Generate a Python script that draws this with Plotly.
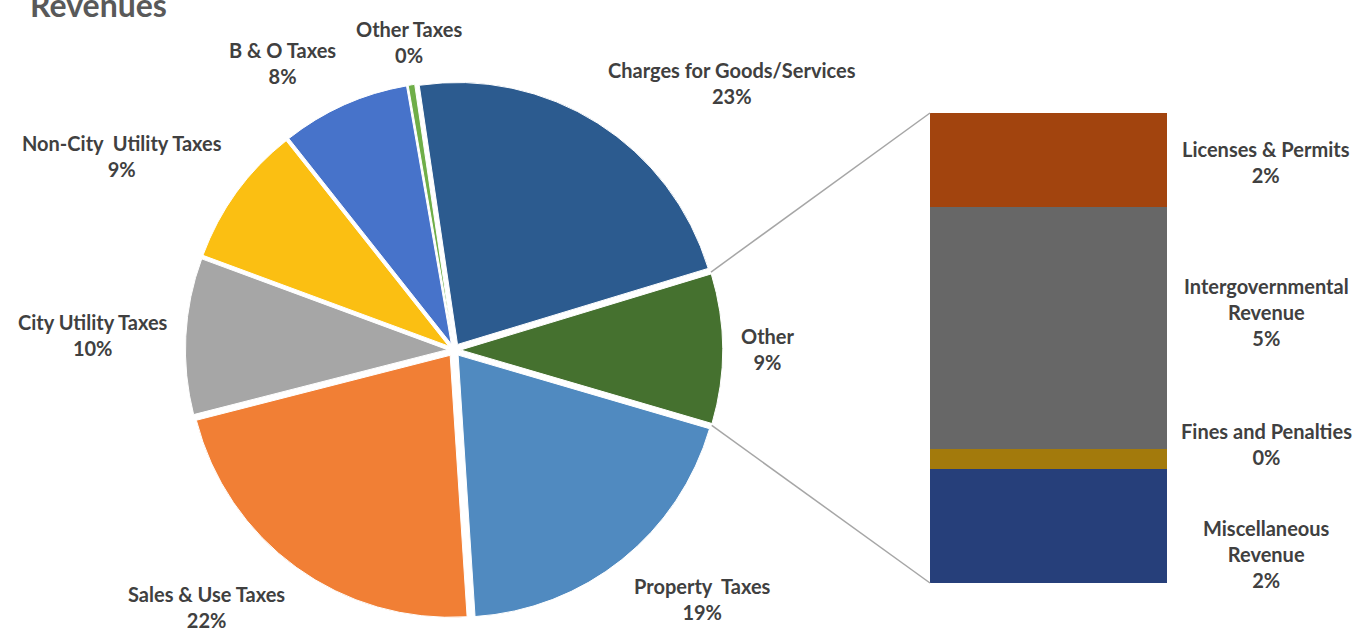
import math
import plotly.graph_objects as go

# ---- data ----
pie_labels = ["Charges for Goods/Services", "Other", "Property  Taxes", "Sales & Use Taxes",
              "City Utility Taxes", "Non-City  Utility Taxes", "B & O Taxes", "Other Taxes"]
pie_values = [22.6, 9.2, 19.4, 22.0, 9.6, 8.7, 7.9, 0.4]
pie_colors = ["#2C5B8F", "#45712F", "#508AC0", "#F17F35", "#A6A6A6", "#FBBF12", "#4773CA", "#6FAE48"]

bar_labels = ["Miscellaneous<br>Revenue", "Fines and Penalties", "Intergovernmental<br>Revenue", "Licenses & Permits"]
bar_values = [2.23, 0.39, 4.74, 1.84]
bar_colors = ["#263F7A", "#A37A0C", "#676767", "#A2440E"]
bar_label_shift = [-28, 15, 16, -2]   # px offsets of the data labels

W, H = 1372, 632
total = sum(pie_values)
rotation = -8.4
pull = 0.025
FONT = "Lato"
TXT = "#404040"
FS = 20

# pie geometry (pixels)
cx_px, cy_px, r_px = 454, 350, 262
half = r_px * (1 + pull)
pie_dom_x = [(cx_px - half) / W, (cx_px + half) / W]
pie_dom_y = [1 - (cy_px + half) / H, 1 - (cy_px - half) / H]

fig = go.Figure()
fig.add_trace(go.Pie(
    labels=pie_labels, values=pie_values, sort=False, direction="clockwise",
    rotation=rotation, pull=[pull] * len(pie_values),
    marker=dict(colors=pie_colors, line=dict(color="white", width=1)),
    textinfo="none", domain=dict(x=pie_dom_x, y=pie_dom_y), showlegend=False,
    hoverinfo="label+percent",
))

annotations = []
# pie data labels placed just outside each slice, along its bisector
gap = 16
cum = 0
for lab, val in zip(pie_labels, pie_values):
    mid = math.radians(rotation + 360 * (cum + val / 2) / total)
    cum += val
    s, c = math.sin(mid), math.cos(mid)
    rr = half + gap
    px, py = cx_px + rr * s, cy_px - rr * c
    xa = "left" if s > 0.3 else ("right" if s < -0.3 else "center")
    ya = "bottom" if c > 0.5 else ("top" if c < -0.5 else "middle")
    pct = round(100 * val / total)
    annotations.append(dict(x=px / W, y=1 - py / H, xref="paper", yref="paper",
                            xanchor=xa, yanchor=ya, showarrow=False, align="center",
                            text=f"<b>{lab}<br>{pct}%</b>",
                            font=dict(family=FONT, size=FS, color=TXT)))

# bar of the "Other" slice
bar_dom_x = [930 / W, 1167 / W]
bar_dom_y = [1 - 583 / H, 1 - 113 / H]
bar_total = sum(bar_values)
for lab, val, col in zip(bar_labels, bar_values, bar_colors):
    fig.add_trace(go.Bar(x=[0], y=[val], name=lab, marker=dict(color=col, line=dict(width=0)),
                         width=1, xaxis="x2", yaxis="y2", showlegend=False))

cum = 0
for lab, val, sh in zip(bar_labels, bar_values, bar_label_shift):
    mid = cum + val / 2
    cum += val
    pct = round(100 * val / total)
    annotations.append(dict(x=1266 / W, xref="paper", y=mid, yref="y2", yshift=sh,
                            xanchor="center", yanchor="middle",
                            text=f"<b>{lab}<br>{pct}%</b>", showarrow=False,
                            font=dict(family=FONT, size=FS, color=TXT), align="center"))

annotations.append(dict(x=28 / W, xref="paper", y=1, yref="paper", xanchor="left", yanchor="middle",
                        yshift=-4, text="<b>Revenues</b>", showarrow=False,
                        font=dict(family=FONT, size=32, color="#595959")))

# connector lines from the Other slice corners to the bar corners
cum_before = sum(pie_values[:1])
a0 = math.radians(rotation + 360 * cum_before / total)
a1 = math.radians(rotation + 360 * (cum_before + pie_values[1]) / total)
def pt(a):
    px = cx_px + half * math.sin(a)
    py = cy_px - half * math.cos(a)
    return px / W, 1 - py / H
p0, p1 = pt(a0), pt(a1)
shapes = [
    dict(type="line", xref="paper", yref="paper", x0=p0[0], y0=p0[1], x1=bar_dom_x[0], y1=bar_dom_y[1],
         line=dict(color="#A6A6A6", width=1.5)),
    dict(type="line", xref="paper", yref="paper", x0=p1[0], y0=p1[1], x1=bar_dom_x[0], y1=bar_dom_y[0],
         line=dict(color="#A6A6A6", width=1.5)),
]

fig.update_layout(
    width=W, height=H, margin=dict(l=0, r=0, t=0, b=0),
    paper_bgcolor="white", plot_bgcolor="white", barmode="stack",
    xaxis2=dict(domain=bar_dom_x, range=[-0.5, 0.5], visible=False, anchor="y2"),
    yaxis2=dict(domain=bar_dom_y, range=[0, bar_total], visible=False, anchor="x2"),
    xaxis=dict(visible=False), yaxis=dict(visible=False),
    annotations=annotations, shapes=shapes,
)
fig.write_html("out.html", config={"displayModeBar": False},
               post_script="document.body.style.margin='0';")
